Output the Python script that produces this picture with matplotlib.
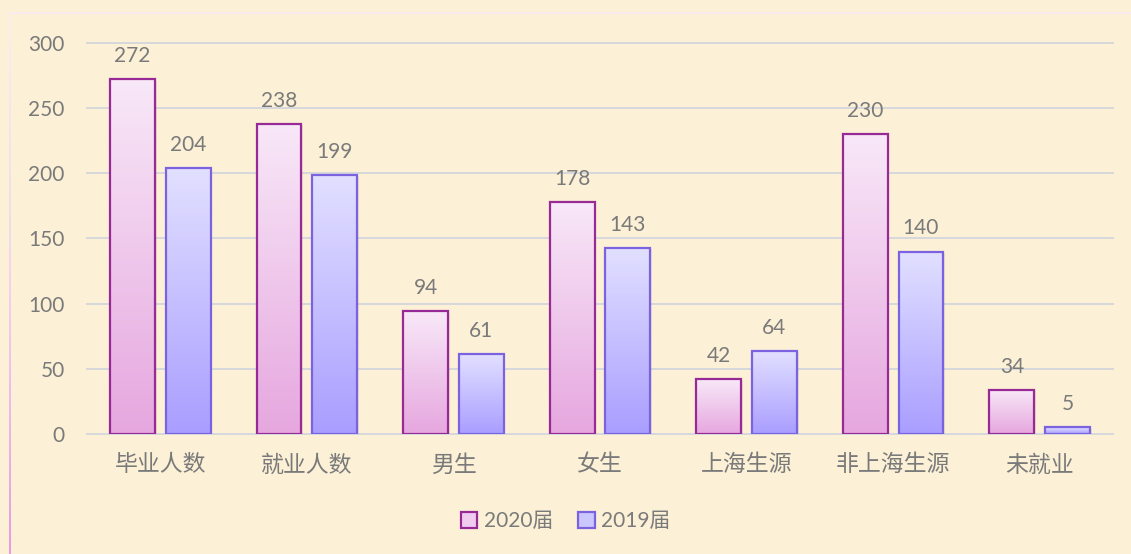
import numpy as np
import matplotlib.pyplot as plt
from matplotlib.colors import LinearSegmentedColormap
from matplotlib.patches import Rectangle

plt.rcParams['font.family'] = ['Lato', 'Noto Sans CJK SC', 'DejaVu Sans']

categories = ['毕业人数', '就业人数', '男生', '女生', '上海生源', '非上海生源', '未就业']
values_2020 = [272, 238, 94, 178, 42, 230, 34]
values_2019 = [204, 199, 61, 143, 64, 140, 5]
series_names = ['2020届', '2019届']

bg = '#FCF0D6'
text_gray = '#7A7A7A'
cjk = ['Noto Sans CJK SC', 'DejaVu Sans']

fig = plt.figure(figsize=(11.31, 5.54), dpi=100, facecolor=bg)

# chart frame: light top line and gradient left line
fx = 9 / 1131
ftop = 1 - 13 / 554
fig.patches.append(Rectangle((fx, ftop - 0.5 / 554), 1.0, 1.6 / 554,
                             transform=fig.transFigure, facecolor='#F8EBF0',
                             edgecolor='none', zorder=0))
edge_cmap = LinearSegmentedColormap.from_list('edge', ['#E79BE4', '#F2D3EE', '#FAEDF0'])
n = 80
for i in range(n):
    fig.patches.append(Rectangle((fx, ftop * i / n), 2.2 / 1131, ftop / n + 0.002,
                                 transform=fig.transFigure,
                                 facecolor=edge_cmap(i / (n - 1)),
                                 edgecolor='none', zorder=0))

ax = fig.add_axes([0.077, 0.2166, 0.907, 0.7058])
ax.set_facecolor('none')

x = np.arange(len(categories))
w = 0.306
off = 0.19

cmap20 = LinearSegmentedColormap.from_list('c20', ['#E6A7DF', '#F8E8F8'])
cmap19 = LinearSegmentedColormap.from_list('c19', ['#A99EFF', '#E2E0FF'])
grad = np.linspace(0, 1, 256).reshape(-1, 1)


def gradient_bars(xs, vals, cmap, edge, label):
    bars = ax.bar(xs, vals, w, facecolor='none', edgecolor=edge, linewidth=1.6,
                  label=label, zorder=3)
    for b in bars:
        bx, by = b.get_x(), b.get_y()
        bw, bh = b.get_width(), b.get_height()
        im = ax.imshow(grad, cmap=cmap, origin='lower', aspect='auto',
                       extent=[bx, bx + bw, by, by + bh], zorder=2)
        im.set_clip_path(b)
        # soft shadow
        ax.add_patch(Rectangle((bx + 0.012, by - 1.2), bw, bh, facecolor='#000000',
                               alpha=0.06, edgecolor='none', zorder=1))
    return bars


b20 = gradient_bars(x - off, values_2020, cmap20, '#972A96', series_names[0])
b19 = gradient_bars(x + off, values_2019, cmap19, '#7A62E0', series_names[1])

for xs, vals in [(x - off, values_2020), (x + off, values_2019)]:
    for xi, v in zip(xs, vals):
        ax.text(xi, v + 10, str(v), ha='center', va='bottom', fontsize=15,
                color=text_gray)

ax.set_xlim(-0.5, len(categories) - 0.5)
ax.set_ylim(0, 300)
ax.set_yticks(range(0, 301, 50))
ax.yaxis.grid(True, color='#D3D6DC', linewidth=1.3, zorder=0)
for gl in ax.get_ygridlines():
    gl.set_clip_on(False)
ax.set_axisbelow(True)
for s in ax.spines.values():
    s.set_visible(False)
ax.tick_params(axis='both', length=0, colors=text_gray)
ax.tick_params(axis='y', pad=16, labelsize=15)
ax.tick_params(axis='x', pad=14)
ax.set_xticks(x)
ax.set_xticklabels(categories, fontsize=16.5, family=cjk)

leg = fig.legend(handles=[b20, b19], labels=series_names, loc='center',
                 bbox_to_anchor=(0.5, 1 - 521 / 554), ncol=2, frameon=False,
                 prop={'size': 15, 'family': ['Lato', 'Noto Sans CJK SC']},
                 handlelength=0.8, handleheight=0.8, handletextpad=0.3,
                 columnspacing=1.2, labelcolor=text_gray)
for h, c in zip(leg.legend_handles, ['#F0CDEE', '#CBC6FF']):
    h.set_facecolor(c)

fig.savefig('out.png', dpi=100, facecolor=bg)
